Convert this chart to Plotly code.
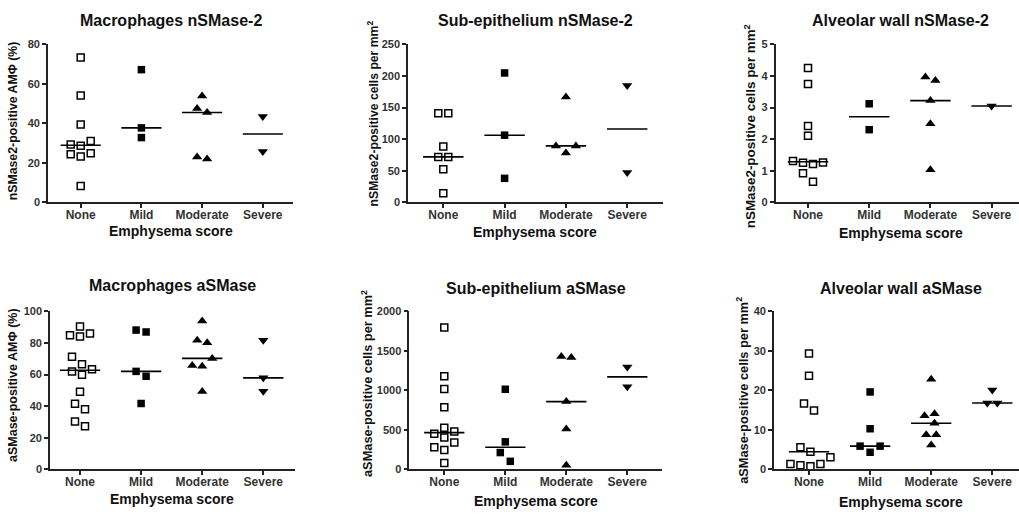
import numpy as np
import plotly.graph_objects as go

W, H = 1019, 517
FONT = "Liberation Sans, Arial, sans-serif"

categories = ["None", "Mild", "Moderate", "Severe"]
x_title = "Emphysema score"

# ---- Macrophages nSMase-2 (% positive AMΦ) ----
mac_n2_none = [73.3, 54.1, 39.4, 31.1, 29.3, 28.6, 24.8, 24.3, 23.2, 8.3]
mac_n2_mild = [67.2, 37.7, 32.8]
mac_n2_moderate = [53.8, 47.5, 45.5, 23.0, 22.0]
mac_n2_severe = [43.5, 25.8]

# ---- Sub-epithelium nSMase-2 (cells per mm2) ----
sub_n2_none = [141.2, 141.2, 88.3, 71.9, 71.9, 52.4, 14.4]
sub_n2_mild = [204.8, 106.3, 38.0]
sub_n2_moderate = [166.8, 89.3, 89.3, 78.0]
sub_n2_severe = [184.8, 47.2]

# ---- Alveolar wall nSMase-2 (cells per mm2) ----
alv_n2_none = [4.25, 3.75, 2.42, 2.11, 1.31, 1.26, 1.25, 1.21, 0.92, 0.65]
alv_n2_mild = [3.12, 2.30]
alv_n2_moderate = [3.97, 3.86, 3.22, 2.49, 1.03]
alv_n2_severe = [3.05]

# ---- Macrophages aSMase (% positive AMΦ) ----
mac_a_none = [90.3, 86.0, 84.8, 84.0, 71.3, 66.5, 63.4, 62.0, 59.8, 49.1, 41.5, 38.0, 30.4, 27.3]
mac_a_mild = [88.1, 86.9, 62.0, 58.9, 41.7]
mac_a_moderate = [93.8, 81.7, 80.1, 70.2, 65.7, 65.3, 49.3]
mac_a_severe = [81.7, 57.9, 49.5]

# ---- Sub-epithelium aSMase (cells per mm2) ----
sub_a_none = [1795, 1179, 1018, 788, 526, 480, 452, 403, 341, 280, 246, 83]
sub_a_mild = [1014, 349, 214, 103]
sub_a_moderate = [1429, 1417, 858, 513, 53]
sub_a_severe = [1294, 1047]

# ---- Alveolar wall aSMase (cells per mm2) ----
alv_a_none = [29.3, 23.7, 16.7, 14.9, 5.6, 4.5, 3.1, 1.4, 1.4, 1.06, 0.8]
alv_a_mild = [19.6, 10.3, 5.9, 5.9, 4.35]
alv_a_moderate = [22.8, 14.1, 13.6, 11.7, 8.8, 8.8, 6.2]
alv_a_severe = [20.1, 16.8, 16.8]

titles = ["Macrophages nSMase-2", "Sub-epithelium nSMase-2", "Alveolar wall nSMase-2",
          "Macrophages aSMase", "Sub-epithelium aSMase", "Alveolar wall aSMase"]
ylabels = ["nSMase2-positive AMΦ (%)", "nSMase2-positive cells per mm<sup>2</sup>",
           "nSMase2-positive cells per mm<sup>2</sup>", "aSMase-positive AMΦ (%)",
           "aSMase-positive cells per mm<sup>2</sup>", "aSMase-positive cells per mm<sup>2</sup>"]
yticks = [[0, 20, 40, 60, 80], [0, 50, 100, 150, 200, 250], [0, 1, 2, 3, 4, 5],
          [0, 20, 40, 60, 80, 100], [0, 500, 1000, 1500, 2000], [0, 10, 20, 30, 40]]

groups = [
    [mac_n2_none, mac_n2_mild, mac_n2_moderate, mac_n2_severe],
    [sub_n2_none, sub_n2_mild, sub_n2_moderate, sub_n2_severe],
    [alv_n2_none, alv_n2_mild, alv_n2_moderate, alv_n2_severe],
    [mac_a_none, mac_a_mild, mac_a_moderate, mac_a_severe],
    [sub_a_none, sub_a_mild, sub_a_moderate, sub_a_severe],
    [alv_a_none, alv_a_mild, alv_a_moderate, alv_a_severe],
]

# ---- layout geometry (pixels) ----
# x0, x1, cat0_px, cat_spacing_px, ytop, ybottom
geom = [
    (48.0, 293.3, 80.7, 60.7, 39.3, 201.0),
    (408.0, 663.0, 443.3, 61.3, 39.3, 201.0),
    (775.7, 1019.0, 808.0, 61.2, 39.3, 201.0),
    (50.0, 295.0, 80.0, 61.1, 312.5, 474.5),
    (409.3, 661.7, 444.3, 61.0, 312.5, 474.5),
    (774.0, 1019.0, 809.0, 61.1, 312.5, 474.5),
]
title_pos = [(171, 15), (535, 15), (900, 15), (172, 286), (536, 289), (901, 289)]
xtitle_pos = [(171, 230), (535, 231.5), (901, 232), (172, 505), (536, 506.5), (901, 508)]
ylabel_pos = [(13, 118, 12.3), (373, 110, 12.2), (750, 123, 13.4),
              (13, 388, 12.5), (367, 387, 12.8), (742, 394, 12.8)]

symbols = ["square-open", "square", "triangle-up", "triangle-down"]
msizes = [7, 7.5, 9, 9]


def swarm(values, px_per_unit, step=10.0, d=9.5):
    v = np.asarray(values, dtype=float)
    ypx = v * px_per_unit
    offs = np.zeros(len(v))
    placed = []
    cands = [0]
    for m in range(1, 8):
        cands += [-m, m]
    for i in np.argsort(v, kind="stable"):
        for c in cands:
            x = c * step
            if all(not (abs(x - px) < d and abs(ypx[i] - py) < d) for py, px in placed):
                break
        placed.append((ypx[i], x))
        offs[i] = x
    order = list(np.argsort(ypx, kind="stable"))
    clusters, cur = [], [order[0]]
    for j in order[1:]:
        if ypx[j] - ypx[cur[-1]] < d:
            cur.append(j)
        else:
            clusters.append(cur)
            cur = [j]
    clusters.append(cur)
    for cl in clusters:
        offs[cl] -= offs[cl].mean()
    return offs


fig = go.Figure()
layout = {}
annotations = []
axis_common = dict(showline=True, linecolor="#222", linewidth=1.6, ticks="outside",
                   ticklen=4, tickwidth=1.5, tickcolor="#222", showgrid=False,
                   zeroline=False, fixedrange=True)

for p in range(6):
    x0, x1, c0, cs, yt, yb = geom[p]
    ymax = yticks[p][-1]
    xr = [(x0 - c0) / cs, (x1 - c0) / cs]
    ppu = (yb - yt) / ymax
    xa = "x" if p == 0 else f"x{p+1}"
    ya = "y" if p == 0 else f"y{p+1}"
    layout["xaxis" if p == 0 else f"xaxis{p+1}"] = dict(
        axis_common, domain=[x0 / W, x1 / W], range=xr, anchor=ya,
        tickvals=[0, 1, 2, 3], ticktext=categories, ticklabelstandoff=-4,
        tickfont=dict(family=FONT, size=12, color="#333", weight="bold"))
    layout["yaxis" if p == 0 else f"yaxis{p+1}"] = dict(
        axis_common, domain=[(H - yb) / H, (H - yt) / H], range=[0, ymax], anchor=xa,
        tickvals=yticks[p], tickfont=dict(family=FONT, size=11, color="#333", weight="bold"))

    mx, my = [], []
    for g, vals in enumerate(groups[p]):
        offs = swarm(vals, ppu) / cs
        fig.add_trace(go.Scatter(
            x=[g + o for o in offs], y=vals, mode="markers", xaxis=xa, yaxis=ya,
            showlegend=False, cliponaxis=False, hoverinfo="skip",
            marker=dict(symbol=symbols[g], size=msizes[g], color="black",
                        line=dict(color="black", width=1.5 if g == 0 else 0))))
        med = float(np.median(vals))
        mx += [g - 0.33, g + 0.33, None]
        my += [med, med, None]
    fig.add_trace(go.Scatter(x=mx, y=my, mode="lines", xaxis=xa, yaxis=ya,
                             showlegend=False, cliponaxis=False, hoverinfo="skip",
                             line=dict(color="black", width=1.6)))

    tx, ty = title_pos[p]
    annotations.append(dict(text=f"<b>{titles[p]}</b>", x=tx / W, y=1 - ty / H,
                            xref="paper", yref="paper", xanchor="center", yanchor="middle",
                            showarrow=False, font=dict(family=FONT, size=16, color="#111")))
    ex, ey = xtitle_pos[p]
    annotations.append(dict(text=f"<b>{x_title}</b>", x=ex / W, y=1 - ey / H,
                            xref="paper", yref="paper", xanchor="center", yanchor="middle",
                            showarrow=False, font=dict(family=FONT, size=14, color="#111")))
    lx, ly, ls = ylabel_pos[p]
    annotations.append(dict(text=f"<b>{ylabels[p]}</b>", x=lx / W, y=1 - ly / H,
                            xref="paper", yref="paper", xanchor="center", yanchor="middle",
                            textangle=-90, showarrow=False,
                            font=dict(family=FONT, size=ls, color="#111")))

fig.update_layout(width=W, height=H, margin=dict(l=0, r=0, t=0, b=0),
                  paper_bgcolor="white", plot_bgcolor="white",
                  annotations=annotations, **layout)
fig.write_html("out.html", config={"displayModeBar": False},
               post_script="document.body.style.margin='0';document.body.style.overflow='hidden';")
